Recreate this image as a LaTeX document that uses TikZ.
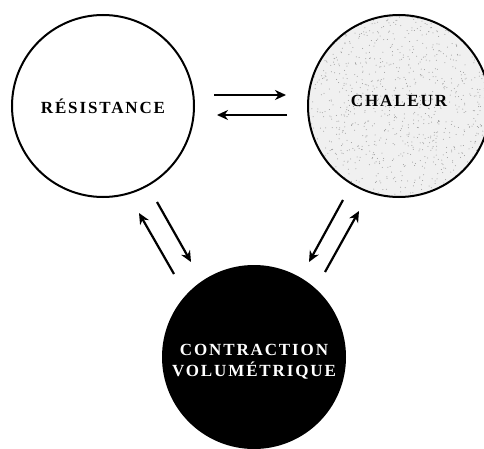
\documentclass[tikz,border=0pt]{standalone}
\usepackage{fontspec}
\usepackage{tikz}
\usetikzlibrary{arrows.meta, calc}
\newfontfamily\cerclefont[LetterSpace=11]{Liberation Serif}

\begin{document}
\begin{tikzpicture}[x=1pt, y=-1pt,
		cercle/.style={circle, draw, line width=2pt, minimum size=182pt, inner sep=0pt,
			align=center, font=\cerclefont\bfseries\fontsize{17}{21}\selectfont},
		fleche/.style={-{Stealth[length=11pt, width=10pt, inset=3.5pt]}, line width=2.2pt}]
		\useasboundingbox (0,0) rectangle (484,449);

		% Circles
		\node[cercle] (res) at (103,106) {RÉSISTANCE};
		\node[cercle, fill=black!6, text depth=10pt, path picture={
				\pgfmathsetseed{7}
				\foreach \i in {1,...,1100}
					\fill[black!40] ($(path picture bounding box.center)+(rand*92,rand*92)$) circle (0.5pt);
			}] (cha) at (399,106) {CHALEUR};
		\node[cercle, fill=black, text=white, text height=42pt] (vol) at (254,357) {CONTRACTION\\VOLUMÉTRIQUE};

		% Arrows between resistance and heat
		\draw[fleche] ([shift={(19,-11)}]res.east) -- ([shift={(-21,-11)}]cha.west);
		\draw[fleche] ([shift={(-20,9)}]cha.west) -- ([shift={(22,9)}]res.east);

		% Arrows to and from the contraction
		\draw[fleche] ([shift={(-80,-83)}]vol.center) -- ([shift={(36,107)}]res.center);
		\draw[fleche] ([shift={(54,96)}]res.center) -- ([shift={(-63,-95)}]vol.center);
		\draw[fleche] ([shift={(-56,94)}]cha.center) -- ([shift={(55,-95)}]vol.center);
		\draw[fleche] ([shift={(71,-85)}]vol.center) -- ([shift={(-40,105)}]cha.center);
	\end{tikzpicture}
\end{document}
